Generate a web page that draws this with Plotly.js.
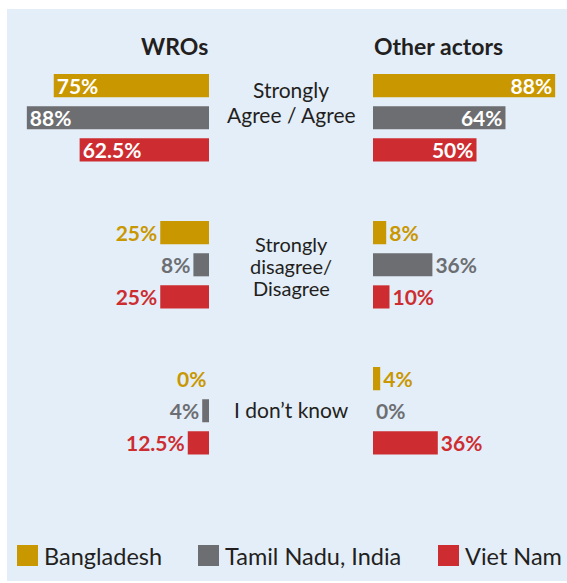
<!DOCTYPE html>
<html><head><meta charset="utf-8">
<script src="https://cdn.plot.ly/plotly-3.0.1.min.js"></script>
<style>html,body{margin:0;padding:0;background:#fff;}#chart{width:567px;height:583px;}</style>
</head><body><div id="chart"></div>
<script>
// ---- data ----
const countries = ['Bangladesh', 'Tamil Nadu, India', 'Viet Nam'];
const countryColors = ['#C99700', '#6D6E71', '#CD2D30'];
const responseLines = [['Strongly', 'Agree / Agree'], ['Strongly', 'disagree/', 'Disagree'], ['I don’t know']];
const groupTitles = ['WROs', 'Other actors'];
// values per response: [Strongly agree/agree, Strongly disagree/disagree, I don't know]
const wroBangladesh = [75, 25, 0];
const wroTamilNadu = [88, 8, 4];
const wroVietNam = [62.5, 25, 12.5];
const otherBangladesh = [88, 8, 4];
const otherTamilNadu = [64, 36, 0];
const otherVietNam = [50, 10, 36];

const W = 567, H = 583;
const FONT = 'Lato, "Open Sans", sans-serif';
const INK = '#231F20';
const sides = [
  [wroBangladesh, wroTamilNadu, wroVietNam],
  [otherBangladesh, otherTamilNadu, otherVietNam]
];
// layout geometry (px)
const leftEdge = 209, rightEdge = 373;
const pxPerPct = [[2.07, 1.95, 1.7], [2.07, 1.65, 1.8]];
const rowTop = [69.5, 216.5, 362.5], rowH = 96.5;
const lineY = [[89, 114.5], [244, 266, 288], [409]];
const legendSwatchX = [17, 198, 438];
const labelFont = {family: FONT, size: 21, weight: 700};

const data = [];
const layout = {
  width: W, height: H, margin: {l: 0, r: 0, t: 0, b: 0, autoexpand: false},
  paper_bgcolor: '#fff', plot_bgcolor: 'rgba(0,0,0,0)',
  bargap: 0.28, showlegend: false,
  font: {family: FONT, color: INK},
  shapes: [{type: 'rect', xref: 'paper', yref: 'paper', x0: 7 / W, x1: 1, y0: 1 - 581 / H, y1: 1 - 9 / H,
    fillcolor: '#E4EEF9', line: {width: 0}, layer: 'below'}],
  annotations: []
};

let ax = 1;
for (let r = 0; r < 3; r++) {
  const yName = 'yaxis' + (r === 0 ? '' : r + 1);
  const yRef = 'y' + (r === 0 ? '' : r + 1);
  layout[yName] = {domain: [1 - (rowTop[r] + rowH) / H, 1 - rowTop[r] / H], type: 'category',
    categoryorder: 'array', categoryarray: countries, range: [2.5, -0.5], visible: false, fixedrange: true};
  for (let s = 0; s < 2; s++) {
    const xName = 'xaxis' + (ax === 1 ? '' : ax);
    const xRef = 'x' + (ax === 1 ? '' : ax);
    const scale = pxPerPct[s][r];
    if (s === 0) {
      layout[xName] = {domain: [0, leftEdge / W], range: [leftEdge / scale, 0], visible: false, fixedrange: true, anchor: yRef};
    } else {
      layout[xName] = {domain: [rightEdge / W, 1], range: [0, (W - rightEdge) / scale], visible: false, fixedrange: true, anchor: yRef};
    }
    const vals = sides[s].map(arr => arr[r]);
    // zero-length bars on the reversed (left) axis: label is placed left of the baseline by an annotation
    const positions = vals.map(v => r === 0 ? 'inside' : (s === 0 && v === 0 ? 'none' : 'outside'));
    data.push({
      type: 'bar', orientation: 'h', xaxis: xRef, yaxis: yRef, name: groupTitles[s],
      y: countries, x: vals, marker: {color: countryColors, line: {width: 0}},
      text: vals.map(v => v + '%'),
      textposition: positions,
      insidetextanchor: 'end', constraintext: 'none', cliponaxis: false,
      textfont: Object.assign({}, labelFont, {color: r === 0 ? '#fff' : countryColors}),
      insidetextfont: Object.assign({}, labelFont, {color: '#fff'}),
      outsidetextfont: Object.assign({}, labelFont, {color: countryColors}),
      hoverinfo: 'skip', showlegend: false
    });
    vals.forEach((v, i) => {
      if (positions[i] === 'none') {
        layout.annotations.push({xref: xRef, yref: yRef, x: v, y: countries[i], xanchor: 'right', yanchor: 'middle',
          xshift: -1, text: v + '%', showarrow: false, font: Object.assign({}, labelFont, {color: countryColors[i]})});
      }
    });
    ax++;
  }
  responseLines[r].forEach((ln, i) => {
    layout.annotations.push({xref: 'paper', yref: 'paper', x: 291 / W, y: 1 - lineY[r][i] / H,
      xanchor: 'center', yanchor: 'middle', text: ln, showarrow: false,
      font: {family: FONT, size: r === 1 ? 20 : 21, color: INK}});
  });
}
// group titles
layout.annotations.push({xref: 'paper', yref: 'paper', x: (leftEdge + 1) / W, y: 1 - 46 / H, xanchor: 'right', yanchor: 'middle',
  text: '<b>' + groupTitles[0] + '</b>', showarrow: false, font: {family: FONT, size: 23, color: INK}});
layout.annotations.push({xref: 'paper', yref: 'paper', x: (rightEdge - 1) / W, y: 1 - 46 / H, xanchor: 'left', yanchor: 'middle',
  text: '<b>' + groupTitles[1] + '</b>', showarrow: false, font: {family: FONT, size: 23, color: INK}});
// legend (swatch + label per country)
countries.forEach((c, i) => {
  const x0 = legendSwatchX[i];
  layout.shapes.push({type: 'rect', xref: 'paper', yref: 'paper', x0: x0 / W, x1: (x0 + 21) / W,
    y0: 1 - 566 / H, y1: 1 - 545 / H, fillcolor: countryColors[i], line: {width: 0}});
  layout.annotations.push({xref: 'paper', yref: 'paper', x: (x0 + 25) / W, y: 1 - 555.5 / H, xanchor: 'left', yanchor: 'middle',
    text: c, showarrow: false, font: {family: FONT, size: 23.5, color: INK}});
});

Plotly.newPlot('chart', data, layout, {displayModeBar: false, staticPlot: true});
</script></body></html>
